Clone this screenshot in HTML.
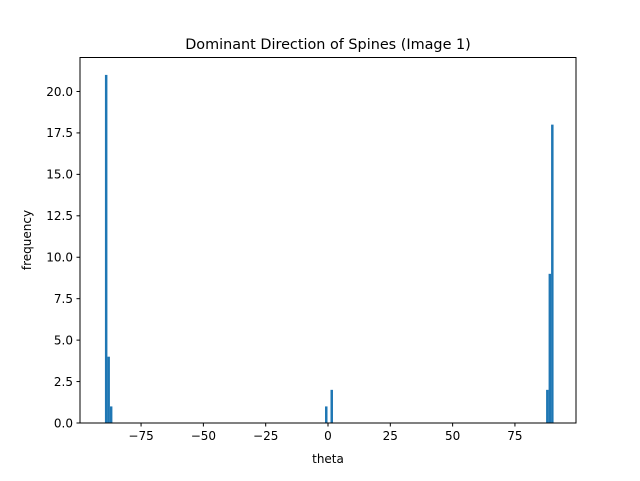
<!DOCTYPE html>
<html><head><meta charset="utf-8"><style>
body{margin:0;background:#fff;}
text{font-family:"DejaVu Sans","Liberation Sans",sans-serif;fill:#000;}
</style></head><body>
<svg id="chart" width="640" height="476" xmlns="http://www.w3.org/2000/svg">
<rect width="640" height="476" fill="#fff"/>
<text x="328" y="49" font-size="14.4" text-anchor="middle">Dominant Direction of Spines (Image 1)</text>
<g id="bars"></g>
<g id="xt"></g>
<g id="yt"></g>
<rect x="80" y="57.5" width="496" height="365.5" fill="none" stroke="#000" stroke-width="1"/>
<text x="328" y="463" font-size="12" text-anchor="middle">theta</text>
<text transform="translate(31,240) rotate(-90)" font-size="12" text-anchor="middle">frequency</text>
</svg>
<script>
const binLefts = [-89.5, -88.5, -87.5, -1.2, 1.0, 87.5, 88.5, 89.5];
const counts = [21, 4, 1, 1, 2, 2, 9, 18];
const binWidth = 1;
const xTicks = [-75, -50, -25, 0, 25, 50, 75];
const yTicks = [0, 2.5, 5, 7.5, 10, 12.5, 15, 17.5, 20];
const yTickLabels = ["0.0","2.5","5.0","7.5","10.0","12.5","15.0","17.5","20.0"];

const NS="http://www.w3.org/2000/svg";
const L=80,R=576,T=57.5,B=423;
const xmin=-99.5,xmax=99.5,ymax=22.05;
const xs=v=>L+(v-xmin)/(xmax-xmin)*(R-L);
const ys=v=>B-v/ymax*(B-T);
function mk(tag,attrs,parent){const e=document.createElementNS(NS,tag);for(const k in attrs)e.setAttribute(k,attrs[k]);parent.appendChild(e);return e;}
const bars=document.getElementById('bars');
binLefts.forEach((b,i)=>{
  const x0=xs(b),x1=xs(b+binWidth);
  const r=mk('rect',{x:x0,y:ys(counts[i]),width:x1-x0,height:B-ys(counts[i]),fill:'#1f77b4'},bars);
  
  
});
const xt=document.getElementById('xt');
xTicks.forEach(v=>{
  const x=xs(v);
  const l=mk('line',{x1:x,x2:x,y1:B,y2:B+3.5,stroke:'#000'},xt);
  
  
  const t=mk('text',{x:x,y:B+17,'font-size':12,'text-anchor':'middle'},xt);
  t.textContent=v<0?'\u2212'+Math.abs(v):String(v);
  
  
});
const yt=document.getElementById('yt');
yTicks.forEach((v,i)=>{
  const y=ys(v);
  const l=mk('line',{x1:L-3.5,x2:L,y1:y,y2:y,stroke:'#000'},yt);
  
  
  const t=mk('text',{x:L-7,y:y+4.3,'font-size':12,'text-anchor':'end'},yt);
  t.textContent=yTickLabels[i];
  
  
});
</script>
</body></html>
